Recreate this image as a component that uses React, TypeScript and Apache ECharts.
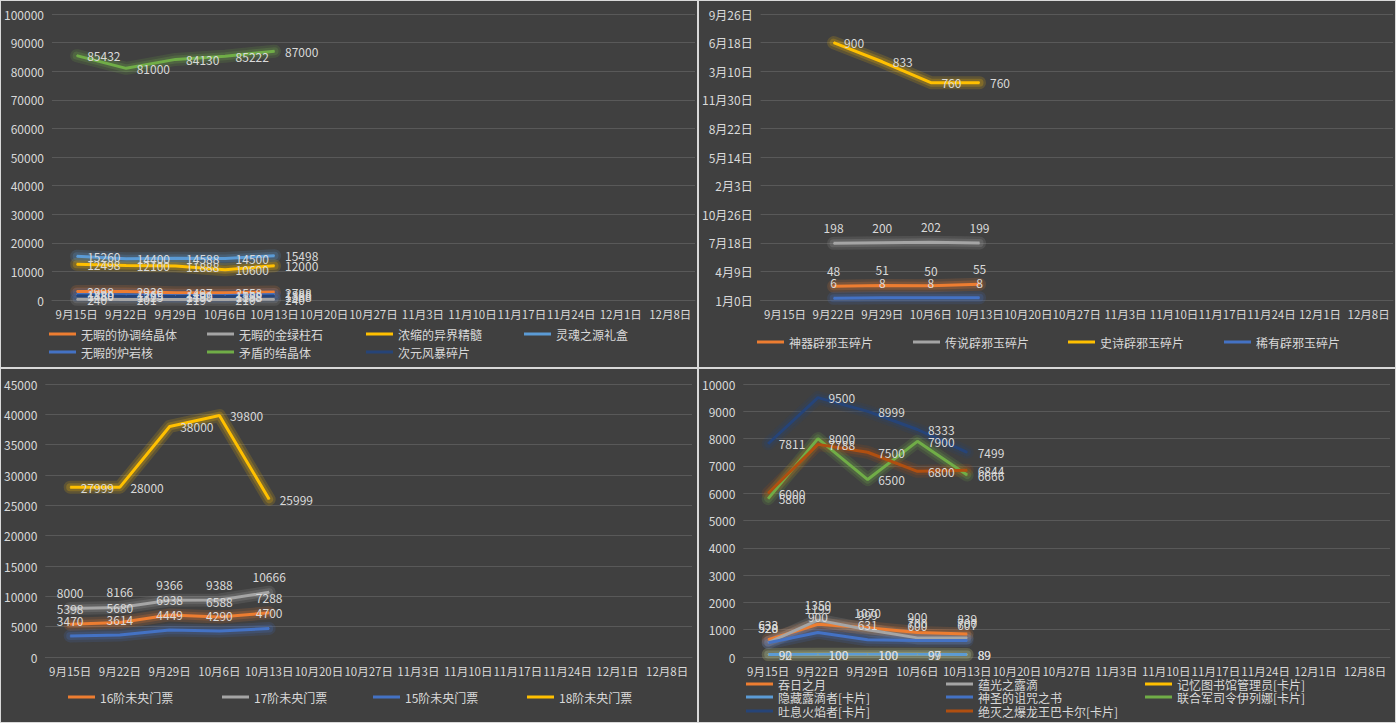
import React, { useEffect, useRef } from "react";
import * as echarts from "echarts";

const FONT = '"Noto Sans CJK SC", "Noto Sans", sans-serif';
const TXT = "#d9d9d9";
const GRIDC = "#595959";
const BG = "#404040";

const categories = [
  "9月15日", "9月22日", "9月29日", "10月6日", "10月13日", "10月20日", "10月27日",
  "11月3日", "11月10日", "11月17日", "11月24日", "12月1日", "12月8日",
];

// Top-right y tick labels (Excel date-formatted numbers 0..1000)
const dateTicks = [
  "1月0日", "4月9日", "7月18日", "10月26日", "2月3日", "5月14日",
  "8月22日", "11月30日", "3月10日", "6月18日", "9月26日",
];

// colours
const ORANGE = "#ED7D31";
const GREY = "#A5A5A5";
const YELLOW = "#FFC000";
const LBLUE = "#5B9BD5";
const BLUE = "#4472C4";
const GREEN = "#70AD47";
const DBLUE = "#264478";
const DORANGE = "#B04F10";

// ---- Top-left data ----
const tlNames = ["无暇的协调结晶体", "无暇的金绿柱石", "浓缩的异界精髓", "灵魂之源礼盒", "无暇的炉岩核", "矛盾的结晶体", "次元风暴碎片"];
const tlXieTiao = [2998, 2930, 2497, 2558, 2788];
const tlJinLv = [240, 201, 219, 210, 240];
const tlNongSuo = [12498, 12100, 11888, 10600, 12000];
const tlLingHun = [15260, 14400, 14588, 14500, 15498];
const tlLuYan = [1880, 1765, 1499, 1558, 1888];
const tlMaoDun = [85432, 81000, 84130, 85222, 87000];
const tlCiYuan = [1480, 1325, 1190, 1198, 1388];

// ---- Top-right data ----
const trNames = ["神器辟邪玉碎片", "传说辟邪玉碎片", "史诗辟邪玉碎片", "稀有辟邪玉碎片"];
const trShenQi = ["-", 48, 51, 50, 55];
const trChuanShuo = ["-", 198, 200, 202, 199];
const trShiShi = ["-", 900, 833, 760, 760];
const trXiYou = ["-", 6, 8, 8, 8];

// ---- Bottom-left data ----
const blNames = ["16阶未央门票", "17阶未央门票", "15阶未央门票", "18阶未央门票"];
const bl16 = [5398, 5680, 6938, 6588, 7288];
const bl17 = [8000, 8166, 9366, 9388, 10666];
const bl15 = [3470, 3614, 4449, 4290, 4700];
const bl18 = [27999, 28000, 38000, 39800, 25999];

// ---- Bottom-right data ----
const brNames = [
  "吞日之月", "蕴光之露滴", "记忆图书馆管理员[卡片]",
  "隐藏露滴者[卡片]", "神圣的诅咒之书", "联合军司令伊列娜[卡片]",
  "吐息火焰者[卡片]", "绝灭之爆龙王巴卡尔[卡片]",
];
const brTunRi = [633, 1199, 1070, 900, 839];
const brYunGuang = [528, 1350, 999, 700, 700];
const brJiYi = [90, 100, 100, 97, 89];
const brYinCang = [92, 100, 100, 99, 89];
const brShenSheng = [520, 900, 631, 600, 607];
const brLianHe = [5800, 8000, 6500, 7900, 6666];
const brTuXi = [7811, 9500, 8999, 8333, 7499];
const brJueMie = [6000, 7788, 7500, 6800, 6844];

type Ser = { name: string; color: string; data: (number | string)[]; pos: "right" | "top" };

function rgba(hex: string, a: number) {
  const n = parseInt(hex.slice(1), 16);
  return `rgba(${(n >> 16) & 255},${(n >> 8) & 255},${n & 255},${a})`;
}

function buildOption(cfg: {
  grid: any;
  min: number;
  max: number;
  interval: number;
  fmt: (v: number) => string;
  series: Ser[];
  legendPos: [number, number][];
}) {
  const glow: any[] = [];
  cfg.series.forEach((s) => {
    [
      [13, 0.16],
      [8, 0.22],
    ].forEach(([w, a]) => {
      glow.push({
        type: "line",
        name: s.name + "·glow" + w,
        data: s.data,
        symbol: "none",
        silent: true,
        z: 1,
        lineStyle: { color: rgba(s.color, a), width: w, cap: "round", join: "round" },
        label: { show: false },
        tooltip: { show: false },
      });
    });
  });
  const main = cfg.series.map((s) => ({
    type: "line",
    name: s.name,
    data: s.data,
    symbol: "circle",
    symbolSize: 1,
    showSymbol: true,
    z: 3,
    itemStyle: { color: s.color },
    lineStyle: { color: s.color, width: 3 },
    label: {
      show: true,
      position: s.pos,
      distance: s.pos === "top" ? 9 : 10,
      color: TXT,
      fontSize: 12,
      fontFamily: FONT,
      formatter: (p: any) => String(p.value),
    },
  }));
  return {
    animation: false,
    backgroundColor: BG,
    textStyle: { fontFamily: FONT },
    grid: { ...cfg.grid, containLabel: false },
    xAxis: {
      type: "category",
      data: categories,
      boundaryGap: true,
      axisLine: { show: true, lineStyle: { color: GRIDC, width: 1 } },
      axisTick: { show: false },
      axisLabel: { interval: 0, color: TXT, fontSize: 11.5, margin: 8, fontFamily: FONT },
    },
    yAxis: {
      type: "value",
      min: cfg.min,
      max: cfg.max,
      interval: cfg.interval,
      axisLine: { show: false },
      axisTick: { show: false },
      splitLine: { show: true, lineStyle: { color: GRIDC, width: 1 } },
      axisLabel: { color: TXT, fontSize: 12, margin: 8, fontFamily: FONT, formatter: cfg.fmt },
    },
    legend: cfg.series.map((s, i) => ({
      data: [{ name: s.name, itemStyle: { color: s.color } }],
      left: cfg.legendPos[i][0],
      top: cfg.legendPos[i][1],
      icon: "rect",
      itemWidth: 27,
      itemHeight: 3,
      padding: 0,
      selectedMode: false,
      textStyle: { color: TXT, fontSize: 12, fontFamily: FONT },
    })),
    series: [...glow, ...main],
  };
}

const numFmt = (v: number) => String(v);

const tlOption = buildOption({
  grid: { left: 49, top: 13, width: 645, height: 286 },
  min: 0,
  max: 100000,
  interval: 10000,
  fmt: numFmt,
  series: [
    { name: tlNames[0], color: ORANGE, data: tlXieTiao, pos: "right" },
    { name: tlNames[1], color: GREY, data: tlJinLv, pos: "right" },
    { name: tlNames[2], color: YELLOW, data: tlNongSuo, pos: "right" },
    { name: tlNames[3], color: LBLUE, data: tlLingHun, pos: "right" },
    { name: tlNames[4], color: BLUE, data: tlLuYan, pos: "right" },
    { name: tlNames[5], color: GREEN, data: tlMaoDun, pos: "right" },
    { name: tlNames[6], color: DBLUE, data: tlCiYuan, pos: "right" },
  ],
  legendPos: [[48, 327], [206, 327], [365, 327], [523, 327], [48, 345], [206, 345], [365, 345]],
});

const trOption = buildOption({
  grid: { left: 61, top: 13, width: 633, height: 286 },
  min: 0,
  max: 1000,
  interval: 100,
  fmt: (v: number) => dateTicks[Math.round(v / 100)] ?? "",
  series: [
    { name: trNames[0], color: ORANGE, data: trShenQi, pos: "top" },
    { name: trNames[1], color: GREY, data: trChuanShuo, pos: "top" },
    { name: trNames[2], color: YELLOW, data: trShiShi, pos: "right" },
    { name: trNames[3], color: BLUE, data: trXiYou, pos: "top" },
  ],
  legendPos: [[58, 335], [214, 335], [369, 335], [525, 335]],
});

const blOption = buildOption({
  grid: { left: 42, top: 15, width: 649, height: 273 },
  min: 0,
  max: 45000,
  interval: 5000,
  fmt: numFmt,
  series: [
    { name: blNames[0], color: ORANGE, data: bl16, pos: "top" },
    { name: blNames[1], color: GREY, data: bl17, pos: "top" },
    { name: blNames[2], color: BLUE, data: bl15, pos: "top" },
    { name: blNames[3], color: YELLOW, data: bl18, pos: "right" },
  ],
  legendPos: [[67, 322], [221, 322], [372, 322], [526, 322]],
});

const brOption = buildOption({
  grid: { left: 44, top: 15, width: 647, height: 273 },
  min: 0,
  max: 10000,
  interval: 1000,
  fmt: numFmt,
  series: [
    { name: brNames[0], color: ORANGE, data: brTunRi, pos: "top" },
    { name: brNames[1], color: GREY, data: brYunGuang, pos: "top" },
    { name: brNames[2], color: YELLOW, data: brJiYi, pos: "right" },
    { name: brNames[3], color: LBLUE, data: brYinCang, pos: "right" },
    { name: brNames[4], color: BLUE, data: brShenSheng, pos: "top" },
    { name: brNames[5], color: GREEN, data: brLianHe, pos: "right" },
    { name: brNames[6], color: DBLUE, data: brTuXi, pos: "right" },
    { name: brNames[7], color: DORANGE, data: brJueMie, pos: "right" },
  ],
  legendPos: [
    [47, 309], [247, 309], [446, 309],
    [47, 322], [247, 322], [446, 322],
    [47, 336], [247, 336],
  ],
});

function Panel(props: { option: any; left: number; top: number; width: number; height: number }) {
  const ref = useRef<HTMLDivElement>(null);
  useEffect(() => {
    const chart = echarts.init(ref.current!, null, { renderer: "svg" });
    chart.setOption(props.option);
    return () => chart.dispose();
  }, []);
  return (
    <div
      ref={ref}
      style={{
        position: "absolute",
        left: props.left,
        top: props.top,
        width: props.width,
        height: props.height,
      }}
    />
  );
}

export default function App() {
  return (
    <div
      style={{
        position: "absolute",
        left: 0,
        top: 0,
        width: 1396,
        height: 723,
        background: "#d9d9d9",
        overflow: "hidden",
      }}
    >
      <Panel option={tlOption} left={1} top={1} width={696} height={366} />
      <Panel option={trOption} left={699} top={1} width={696} height={366} />
      <Panel option={blOption} left={1} top={369} width={696} height={353} />
      <Panel option={brOption} left={699} top={369} width={696} height={353} />
    </div>
  );
}
